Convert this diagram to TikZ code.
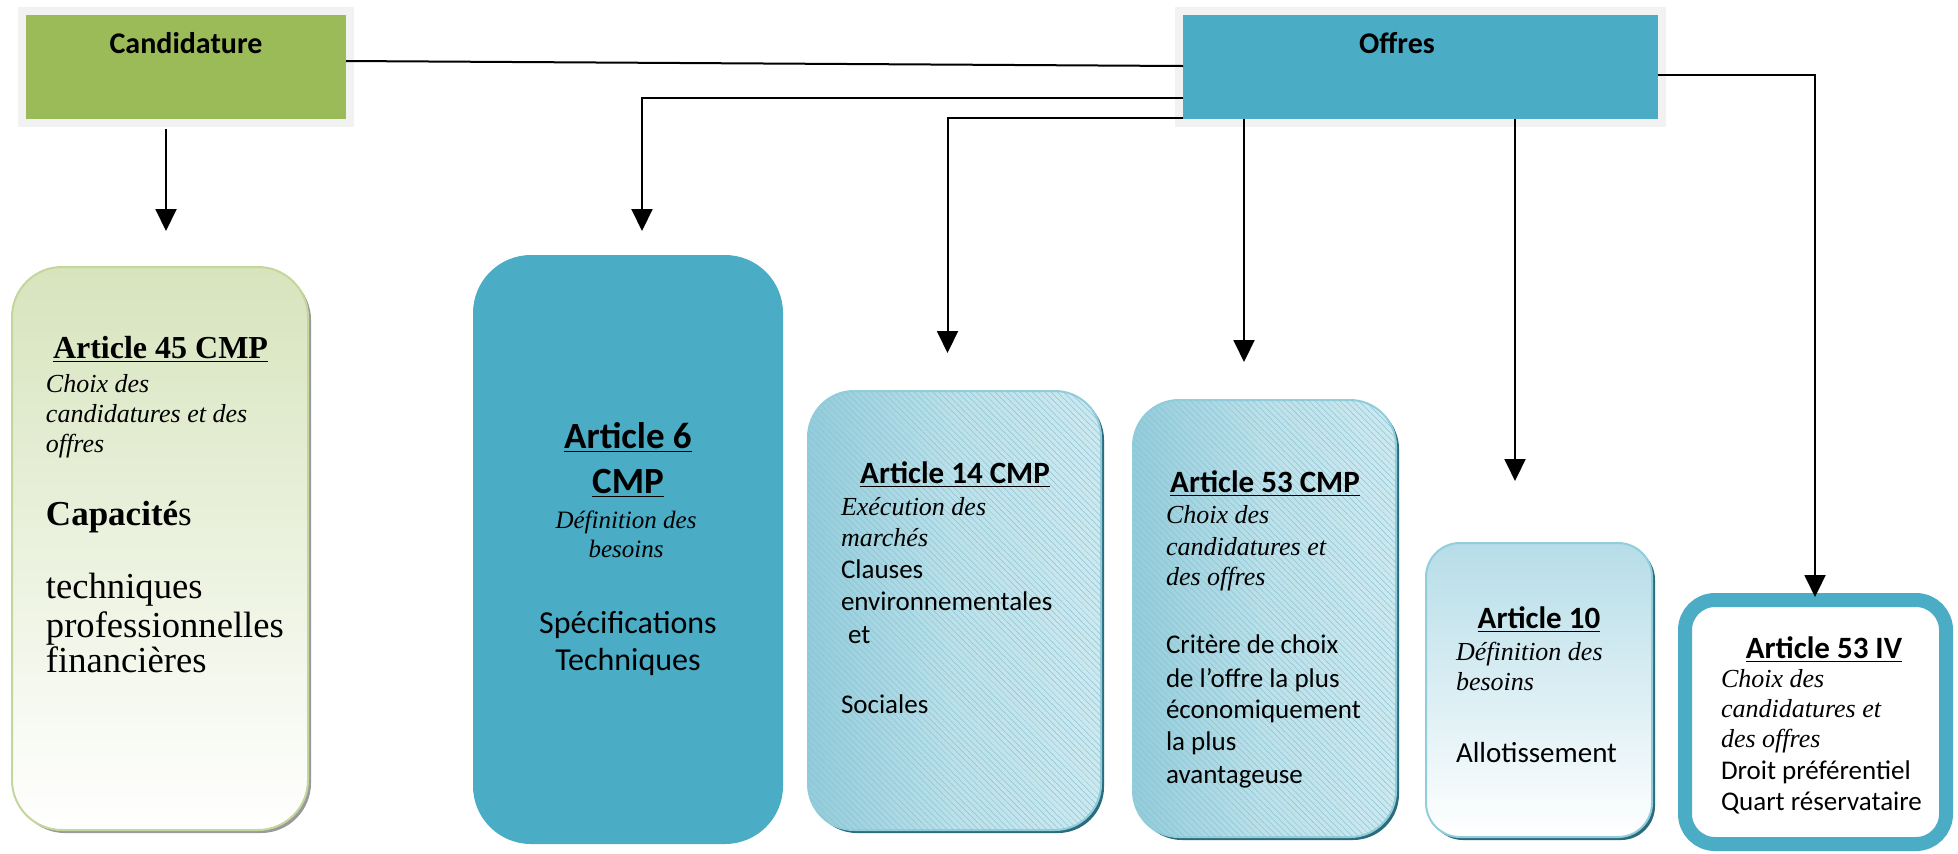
\documentclass[tikz,border=0pt]{standalone}
\usepackage{fontspec}
\setmainfont{Liberation Serif}
\newfontfamily\calib{Carlito}
\usetikzlibrary{arrows.meta,calc,shadows,patterns.meta}
\definecolor{cgreen}{HTML}{9BBB59}
\definecolor{cframe}{HTML}{F2F2F2}
\definecolor{cblue}{HTML}{4BACC6}
\definecolor{gtop}{HTML}{D7E4BD}
\definecolor{gborder}{HTML}{C3D69B}
\definecolor{bborder}{HTML}{92CDDC}
\definecolor{bdark}{HTML}{93CCDB}
\definecolor{bmid}{HTML}{BCE1EA}
\definecolor{blight}{HTML}{CDE9F0}
\definecolor{btop}{HTML}{B6DDE8}
\definecolor{bshadow}{HTML}{2A6B7C}
\definecolor{bhatch}{HTML}{8CC3D2}
\newcommand\setfs[2]{\fontsize{#1}{#2}\selectfont}
\begin{document}
\begin{tikzpicture}[x=0.5pt,y=-0.5pt,
  every node/.style={inner sep=0pt,outer sep=0pt},
  frame/.style={draw=cframe,line width=4pt},
  arr/.style={draw=black,line width=1pt,-{Triangle[width=10.5pt,length=11pt]}},
  conn/.style={draw=black,line width=1pt},
  gshadow/.style={general shadow={shadow xshift=1.5pt,shadow yshift=-1.5pt,fill=#1}},
  hatch/.style={postaction={pattern={Lines[angle=-45,distance=2.2pt,line width=0.25pt]},pattern color=bhatch}},
  tl/.style={anchor=base west},
  tc/.style={anchor=base},
  it/.style={font=\setfs{13}{15}\itshape},
  hd/.style={font=\calib\bfseries\setfs{15}{18}},
  ah/.style={font=\calib\bfseries\setfs{15.5}{18}},
  bd/.style={font=\calib\setfs{13.5}{16}}
]
\useasboundingbox (0,0) rectangle (1958,853);

% header boxes
\node[frame,fill=cgreen,minimum width=164pt,minimum height=56pt] (cand) at (186,67) {};
\node[frame,fill=cblue,minimum width=241.5pt,minimum height=56pt] (off) at (1420.5,67) {};
\node[hd,tc] (tcand) at (186,53) {Candidature};
\node[hd,tc] (toff) at (1397,53) {Offres};

% article boxes
\node[draw=gborder,line width=1pt,top color=gtop,bottom color=white,rounded corners=25pt,
      gshadow=gray!80,minimum width=148pt,minimum height=281.5pt] (a45) at (160,548.5) {};
\node[fill=cblue,rounded corners=29pt,minimum width=155pt,minimum height=294.5pt] (a6) at (628,549.5) {};
\node[draw=bborder,line width=1pt,left color=bdark,right color=blight,middle color=bmid,rounded corners=23pt,
      gshadow=bshadow,hatch,minimum width=146.5pt,minimum height=219.5pt] (a14) at (954.5,610.5) {};
\node[draw=bborder,line width=1pt,left color=bdark,right color=blight,middle color=bmid,rounded corners=23pt,
      gshadow=bshadow,hatch,minimum width=131.5pt,minimum height=218.5pt] (a53) at (1264.5,618.5) {};
\node[draw=bborder,line width=1pt,top color=btop,bottom color=white,rounded corners=17pt,
      gshadow=bshadow,minimum width=113pt,minimum height=147pt] (a10) at (1539,690) {};
\node[draw=cblue,line width=7pt,fill=white,rounded corners=15pt,
      minimum width=130.5pt,minimum height=122pt] (a53iv) at (1815.5,722) {};

% connectors
\draw[conn] ($(cand.east)+(-4,-6)$) -- ($(off.west)+(4,-1)$);
\draw[arr] ($(off.west)+(4,31)$) -| ($(a6.north)+(14,-24)$);
\draw[arr] ($(off.west)+(4,51)$) -| ($(a14.north)+(-7,-38)$);
\draw[arr] ($(off.south)+(-176.5,-4)$) -- ($(a53.north)+(-20.5,-38)$);
\draw[arr] ($(off.south)+(94.5,-4)$) -- ($(a10.north)+(-24,-62)$);
\draw[arr] ($(off.east)+(-4,8)$) -| ($(a53iv.north)+(-0.5,-3)$);
\draw[arr] ($(cand.south)+(-20,6)$) -- ($(a45.north)+(6,-36)$);

% Article 45
\node[tl,font=\bfseries\setfs{16}{18}] (t45a) at (53,358) {\underline{Article 45 CMP}};
\node[tl,it] (t45b) at (46,392) {Choix des};
\node[tl,it] (t45c) at (46,422) {candidatures et des};
\node[tl,it] (t45d) at (46,452) {offres};
\node[tl,font=\setfs{17.5}{20}] (t45e) at (46,525) {\textbf{Capacité}s};
\node[tl,font=\setfs{18.3}{20}] (t45f) at (46,598) {techniques};
\node[tl,font=\setfs{18.3}{20}] (t45g) at (46,637) {professionnelles};
\node[tl,font=\setfs{18.3}{20}] (t45h) at (46,672) {financières};

% Article 6
\node[tc,font=\calib\bfseries\setfs{18.5}{20}] (t6a) at (628,448) {\underline{Article 6}};
\node[tc,font=\calib\bfseries\setfs{18.5}{20}] (t6b) at (628,493) {\underline{CMP}};
\node[tc,font=\setfs{12.5}{15}\itshape] (t6c) at (626,528) {Définition des};
\node[tc,font=\setfs{12.5}{15}\itshape] (t6d) at (626,557) {besoins};
\node[tc,font=\calib\setfs{16}{18}] (t6e) at (628,633) {Spécifications};
\node[tc,font=\calib\setfs{16}{18}] (t6f) at (628,670) {Techniques};

% Article 14
\node[tc,ah] (t14a) at (955,483) {\underline{Article 14 CMP}};
\node[tl,it] (t14b) at (841,515) {Exécution des};
\node[tl,it] (t14c) at (841,546) {marchés};
\node[tl,bd] (t14d) at (841,578) {Clauses};
\node[tl,bd] (t14e) at (841,610) {environnementales};
\node[tl,bd] (t14f) at (848,643) {et};
\node[tl,bd] (t14g) at (841,713) {Sociales};

% Article 53
\node[tc,ah] (t53a) at (1265,492) {\underline{Article 53 CMP}};
\node[tl,it] (t53b) at (1166,523) {Choix des};
\node[tl,it] (t53c) at (1166,555) {candidatures et};
\node[tl,it] (t53d) at (1166,585) {des offres};
\node[tl,bd] (t53e) at (1166,653) {Critère de choix};
\node[tl,bd] (t53f) at (1166,687) {de l’offre la plus};
\node[tl,bd] (t53g) at (1166,718) {économiquement};
\node[tl,bd] (t53h) at (1166,750) {la plus};
\node[tl,bd] (t53i) at (1166,783) {avantageuse};

% Article 10
\node[tc,ah] (t10a) at (1539,628) {\underline{Article 10}};
\node[tl,it] (t10b) at (1456,660) {Définition des};
\node[tl,it] (t10c) at (1456,690) {besoins};
\node[tl,font=\calib\setfs{14.5}{17}] (t10d) at (1456,762) {Allotissement};

% Article 53 IV
\node[tc,ah] (t4a) at (1824,658) {\underline{Article 53 IV}};
\node[tl,it] (t4b) at (1721,687) {Choix des};
\node[tl,it] (t4c) at (1721,717) {candidatures et};
\node[tl,it] (t4d) at (1721,747) {des offres};
\node[tl,bd] (t4e) at (1721,779) {Droit préférentiel};
\node[tl,bd] (t4f) at (1721,810) {Quart réservataire};
\end{tikzpicture}
\end{document}
